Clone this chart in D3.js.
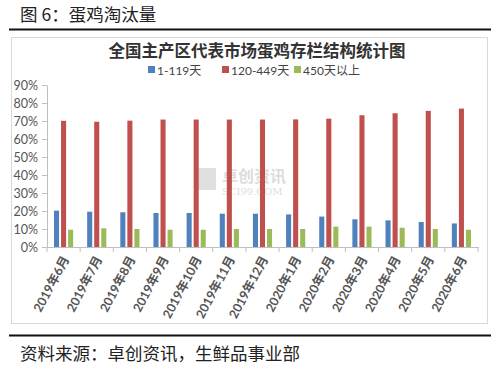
<!DOCTYPE html>
<html>
<head>
<meta charset="utf-8">
<script src="https://cdn.jsdelivr.net/npm/d3@7"></script>
<style>
  html, body { margin: 0; padding: 0; background: #fff; }
  svg { display: block; }
</style>
</head>
<body>
<svg id="chart" width="500" height="368"></svg>
<script>
const categories = ["2019年6月","2019年7月","2019年8月","2019年9月","2019年10月","2019年11月","2019年12月","2020年1月","2020年2月","2020年3月","2020年4月","2020年5月","2020年6月"];
const seriesNames = ["1-119天","120-449天","450天以上"];
const young = [20.2,19.6,19.3,18.9,18.9,18.5,18.5,18.1,16.9,15.4,14.8,13.9,13.1];
const laying = [70.1,69.6,70.2,70.8,70.8,70.8,70.8,70.9,71.3,73.2,74.3,75.6,76.9];
const old = [9.6,10.4,10.0,9.6,9.6,10.0,10.0,10.0,11.3,11.3,10.7,10.0,9.6];
const yTicks = [0,10,20,30,40,50,60,70,80,90];
const colors = ["#4F81BD","#C0504D","#9BBB59"];

const series = [young, laying, old];
const svg = d3.select("#chart");
const cjk = "'Noto Sans CJK SC', 'Noto Sans', sans-serif";
const num = "Lato, 'Noto Sans CJK SC', sans-serif";

// page header
svg.append("text").attr("x", 20).attr("y", 21).attr("font-family", cjk)
  .attr("font-size", 17.5).attr("fill", "#222").text("图 6：蛋鸡淘汰量");
svg.append("line").attr("x1", 9).attr("x2", 491).attr("y1", 29.5).attr("y2", 29.5)
  .attr("stroke", "#111").attr("stroke-width", 2);
svg.append("line").attr("x1", 9).attr("x2", 491).attr("y1", 335.5).attr("y2", 335.5)
  .attr("stroke", "#111").attr("stroke-width", 2);
svg.append("text").attr("x", 20).attr("y", 360).attr("font-family", cjk)
  .attr("font-size", 17.5).attr("fill", "#222").text("资料来源：卓创资讯，生鲜品事业部");

// chart frame
svg.append("rect").attr("x", 11.5).attr("y", 37.5).attr("width", 476).attr("height", 286)
  .attr("fill", "#fff").attr("stroke", "#d9d9d9").attr("stroke-width", 1);

// chart title
svg.append("text").attr("x", 257).attr("y", 57).attr("text-anchor", "middle")
  .attr("font-family", cjk).attr("font-weight", "bold").attr("font-size", 16.5)
  .attr("fill", "#333").text("全国主产区代表市场蛋鸡存栏结构统计图");

// legend
const legendX = [148, 222, 294];
seriesNames.forEach((n, i) => {
  const g = svg.append("g").attr("transform", `translate(${legendX[i]},70)`);
  g.append("rect").attr("x", 0).attr("y", -4).attr("width", 7).attr("height", 7).attr("fill", colors[i]);
  g.append("text").attr("x", 9).attr("y", 4.5).attr("font-family", num)
    .attr("font-size", 12).attr("fill", "#444").text(n);
});

// scales
const x0 = d3.scaleBand().domain(categories).range([47, 478]).paddingInner(0).paddingOuter(0);
const x1 = d3.scaleBand().domain(d3.range(3)).range([7, x0.bandwidth() - 7]).paddingInner(0.28).paddingOuter(0);
const y = d3.scaleLinear().domain([0, 90]).range([247, 85]);

// watermark
const wm = svg.append("g").attr("opacity", 0.22);
wm.append("rect").attr("x", 198).attr("y", 168).attr("width", 18).attr("height", 22).attr("fill", "#777");
wm.append("text").attr("x", 222).attr("y", 182).attr("font-family", cjk).attr("font-size", 16)
  .attr("font-weight", "bold").attr("fill", "#666").text("卓创资讯");
wm.append("text").attr("x", 222).attr("y", 195).attr("font-family", "'DejaVu Serif', serif").attr("font-size", 10)
  .attr("fill", "#666").text("SCI99.COM");

// bars
const groups = svg.append("g").selectAll("g").data(categories).join("g")
  .attr("transform", d => `translate(${x0(d)},0)`);
groups.selectAll("rect").data((d, ci) => series.map((s, si) => ({si, v: s[ci]}))).join("rect")
  .attr("x", d => x1(d.si)).attr("width", x1.bandwidth())
  .attr("y", d => y(d.v)).attr("height", d => y(0) - y(d.v))
  .attr("fill", d => colors[d.si]);

// y axis
const yAxis = svg.append("g").attr("transform", "translate(47,0)")
  .call(d3.axisLeft(y).tickValues(yTicks).tickFormat(d => d + "%").tickSize(5).tickSizeOuter(0));
yAxis.select(".domain").attr("stroke", "#bfbfbf");
yAxis.selectAll(".tick line").attr("stroke", "#bfbfbf");
yAxis.selectAll(".tick text").attr("font-family", num).attr("font-size", 12.5)
  .attr("fill", "#555").attr("x", -9);

// x axis
const xAxis = svg.append("g").attr("transform", "translate(0,247)")
  .call(d3.axisBottom(x0).tickSize(0).tickSizeOuter(0));
xAxis.select(".domain").attr("stroke", "#bfbfbf");
xAxis.selectAll(".tick text")
  .attr("font-family", num).attr("font-size", 12.5).attr("font-weight", "bold").attr("fill", "#555")
  .attr("text-anchor", "end").attr("y", 0).attr("dy", 0)
  .attr("transform", "translate(6,12) rotate(-62)");
// category separator ticks
const bounds = categories.map(c => x0(c)).concat([x0.range()[1]]);
svg.append("g").selectAll("line").data(bounds).join("line")
  .attr("x1", d => d).attr("x2", d => d).attr("y1", 247).attr("y2", 252)
  .attr("stroke", "#bfbfbf");
</script>
</body>
</html>
